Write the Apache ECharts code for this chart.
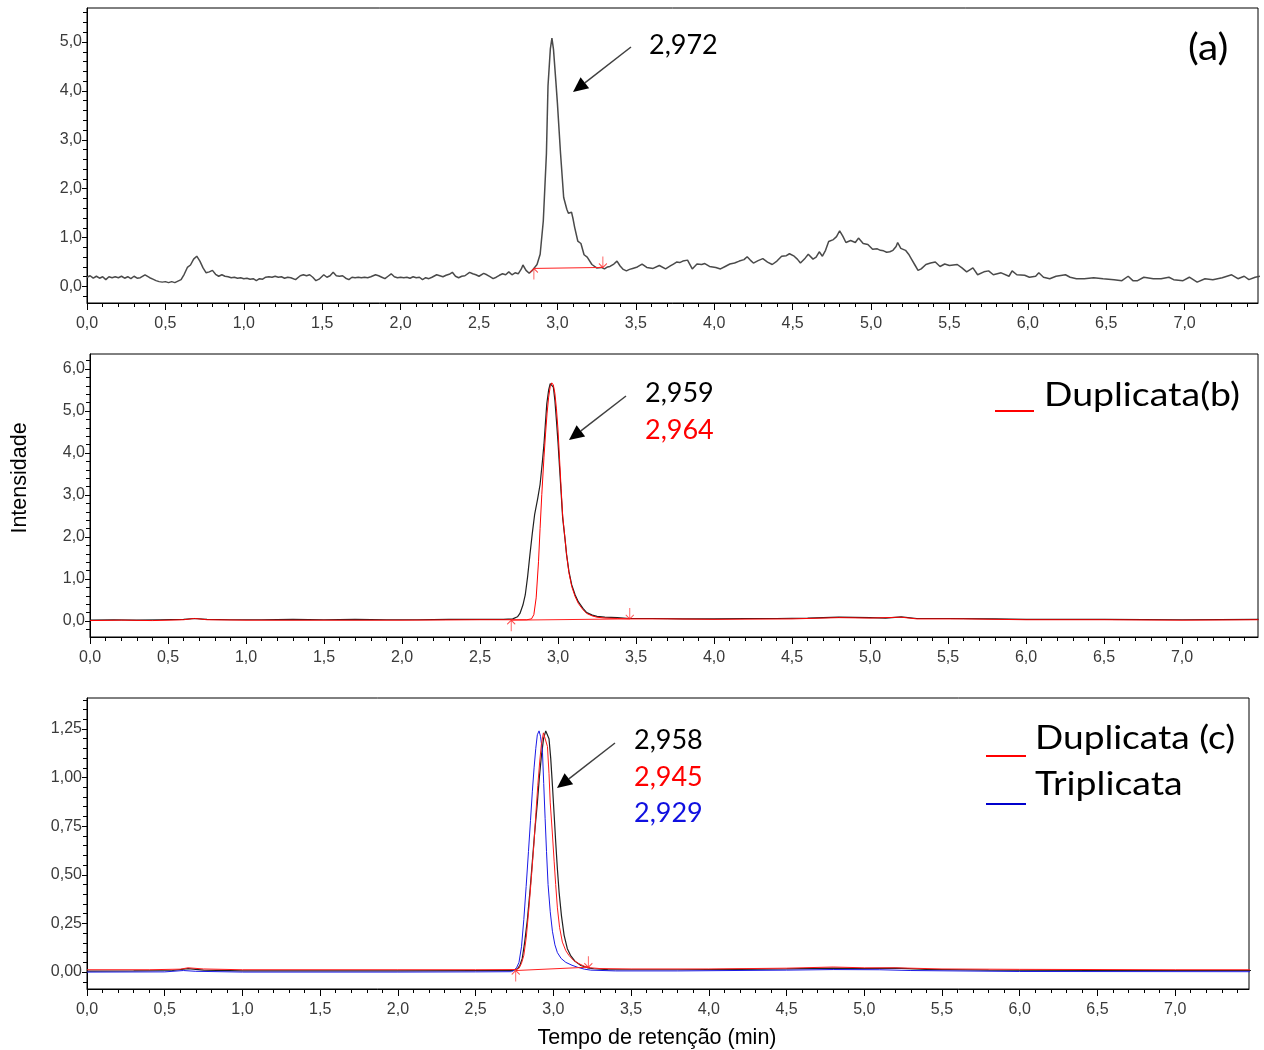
<!DOCTYPE html>
<html><head><meta charset="utf-8">
<script src="https://cdn.jsdelivr.net/npm/echarts@6/dist/echarts.min.js"></script>
<style>html,body{margin:0;padding:0;background:#fff}#c{width:1264px;height:1050px}</style>
</head><body><div id="c"></div>
<script>
// ---------- Panel (a) ----------
const aTime = [0.00,0.02,0.04,0.06,0.08,0.10,0.12,0.14,0.16,0.18,0.20,0.22,0.24,0.26,0.28,0.30,0.32,0.34,0.37,0.40,0.42,0.44,0.46,0.48,0.50,0.52,0.54,0.56,0.58,0.60,0.62,0.64,0.66,0.68,0.70,0.72,0.74,0.76,0.78,0.80,0.82,0.84,0.86,0.88,0.90,0.92,0.94,0.96,0.98,1.00,1.02,1.04,1.06,1.08,1.10,1.12,1.14,1.16,1.18,1.20,1.22,1.24,1.26,1.28,1.30,1.33,1.36,1.38,1.40,1.42,1.44,1.46,1.48,1.51,1.53,1.55,1.57,1.59,1.61,1.63,1.65,1.67,1.69,1.71,1.73,1.75,1.77,1.79,1.81,1.84,1.86,1.88,1.90,1.92,1.94,1.96,1.98,2.00,2.02,2.04,2.06,2.08,2.10,2.12,2.14,2.16,2.18,2.20,2.23,2.25,2.27,2.29,2.31,2.33,2.35,2.37,2.39,2.41,2.44,2.46,2.48,2.50,2.53,2.55,2.57,2.59,2.61,2.63,2.65,2.67,2.69,2.71,2.73,2.75,2.77,2.78,2.80,2.82,2.84,2.85,2.87,2.89,2.91,2.93,2.94,2.955,2.965,2.975,2.99,3.00,3.02,3.04,3.06,3.07,3.09,3.10,3.11,3.13,3.14,3.15,3.17,3.19,3.20,3.22,3.25,3.28,3.30,3.32,3.335,3.36,3.38,3.40,3.42,3.44,3.46,3.48,3.51,3.54,3.57,3.61,3.65,3.69,3.72,3.74,3.76,3.78,3.80,3.83,3.86,3.89,3.92,3.94,3.97,4.01,4.04,4.07,4.10,4.13,4.16,4.19,4.21,4.23,4.25,4.28,4.31,4.34,4.37,4.40,4.43,4.46,4.48,4.51,4.53,4.55,4.58,4.60,4.63,4.65,4.67,4.69,4.71,4.73,4.76,4.78,4.80,4.82,4.84,4.85,4.87,4.90,4.92,4.95,4.98,5.01,5.04,5.06,5.08,5.10,5.12,5.14,5.16,5.17,5.19,5.22,5.24,5.26,5.28,5.30,5.32,5.35,5.38,5.41,5.44,5.47,5.50,5.55,5.58,5.61,5.65,5.68,5.72,5.75,5.78,5.83,5.88,5.90,5.93,5.98,6.01,6.05,6.07,6.10,6.14,6.18,6.24,6.27,6.31,6.36,6.42,6.48,6.55,6.60,6.64,6.67,6.70,6.74,6.80,6.85,6.90,6.93,6.99,7.03,7.08,7.13,7.18,7.24,7.30,7.34,7.38,7.41,7.45,7.48];
const aSignal = [0.19,0.22,0.17,0.21,0.17,0.20,0.14,0.20,0.18,0.20,0.18,0.21,0.17,0.20,0.16,0.21,0.17,0.18,0.24,0.18,0.15,0.12,0.10,0.09,0.10,0.08,0.10,0.08,0.11,0.14,0.25,0.39,0.44,0.56,0.62,0.52,0.38,0.28,0.30,0.33,0.25,0.21,0.24,0.21,0.20,0.18,0.19,0.17,0.18,0.16,0.17,0.15,0.16,0.12,0.16,0.15,0.19,0.20,0.19,0.21,0.19,0.20,0.17,0.19,0.18,0.14,0.22,0.24,0.22,0.24,0.19,0.12,0.15,0.24,0.19,0.22,0.29,0.22,0.21,0.22,0.17,0.14,0.19,0.18,0.19,0.18,0.19,0.18,0.20,0.24,0.22,0.19,0.16,0.21,0.26,0.20,0.18,0.19,0.18,0.19,0.17,0.20,0.18,0.19,0.14,0.18,0.16,0.19,0.24,0.22,0.20,0.23,0.25,0.29,0.21,0.18,0.21,0.22,0.29,0.26,0.24,0.21,0.27,0.24,0.20,0.16,0.19,0.23,0.26,0.24,0.30,0.24,0.28,0.26,0.36,0.44,0.33,0.27,0.33,0.36,0.45,0.66,1.34,2.72,4.10,4.86,5.08,4.85,4.20,3.75,2.72,1.82,1.58,1.50,1.52,1.38,1.21,0.93,0.97,0.88,0.65,0.60,0.58,0.45,0.38,0.39,0.36,0.40,0.41,0.46,0.52,0.42,0.35,0.32,0.35,0.37,0.40,0.46,0.39,0.37,0.43,0.36,0.42,0.46,0.50,0.49,0.52,0.54,0.36,0.46,0.45,0.47,0.41,0.39,0.36,0.41,0.46,0.48,0.52,0.55,0.61,0.54,0.48,0.53,0.57,0.50,0.45,0.52,0.62,0.63,0.67,0.62,0.56,0.48,0.58,0.66,0.56,0.60,0.71,0.62,0.74,0.92,0.96,1.02,1.14,1.03,0.90,0.86,0.94,0.90,0.99,0.88,0.86,0.76,0.77,0.74,0.73,0.70,0.71,0.74,0.82,0.90,0.78,0.74,0.66,0.55,0.44,0.33,0.36,0.45,0.48,0.50,0.41,0.46,0.43,0.45,0.38,0.30,0.38,0.24,0.30,0.32,0.24,0.28,0.21,0.32,0.24,0.23,0.19,0.21,0.28,0.19,0.16,0.21,0.24,0.19,0.16,0.16,0.18,0.16,0.14,0.12,0.21,0.12,0.12,0.19,0.16,0.16,0.19,0.14,0.12,0.19,0.09,0.16,0.14,0.18,0.24,0.16,0.21,0.14,0.19,0.21];
const aBaseTime = [2.85, 3.29];
const aBaseValue = [0.37, 0.39];

// ---------- Panel (b) ----------
const bTimeBlack = [0.00,0.15,0.30,0.45,0.60,0.67,0.75,0.90,1.10,1.30,1.50,1.70,1.90,2.10,2.30,2.50,2.65,2.71,2.74,2.756,2.775,2.79,2.805,2.82,2.835,2.85,2.87,2.885,2.90,2.91,2.92,2.928,2.94,2.95,2.96,2.97,2.98,2.99,3.00,3.01,3.02,3.03,3.045,3.055,3.07,3.088,3.11,3.13,3.16,3.184,3.22,3.25,3.30,3.38,3.46,3.6,3.8,4.0,4.2,4.4,4.6,4.8,5.0,5.1,5.2,5.3,5.5,5.8,6.0,6.5,7.0,7.49];
const bBlack = [0.02,0.03,0.02,0.03,0.04,0.06,0.04,0.03,0.03,0.04,0.03,0.04,0.03,0.03,0.04,0.04,0.04,0.05,0.10,0.18,0.38,0.62,1.05,1.58,2.08,2.53,2.92,3.25,3.80,4.21,4.75,5.17,5.50,5.65,5.66,5.57,5.25,4.77,4.25,3.65,3.05,2.45,1.95,1.58,1.18,0.86,0.62,0.46,0.30,0.20,0.14,0.11,0.09,0.08,0.06,0.06,0.05,0.05,0.06,0.06,0.07,0.09,0.08,0.07,0.10,0.06,0.06,0.05,0.04,0.04,0.03,0.04];
const bTimeRed = [0.00,0.2,0.4,0.6,0.67,0.75,1.0,1.5,2.0,2.5,2.7,2.80,2.83,2.845,2.86,2.875,2.885,2.896,2.91,2.92,2.93,2.94,2.95,2.96,2.97,2.98,2.99,3.00,3.01,3.02,3.03,3.045,3.055,3.07,3.088,3.11,3.13,3.16,3.184,3.22,3.25,3.30,3.38,3.46,3.7,4.0,4.5,4.8,5.0,5.2,5.3,5.6,6.0,6.5,7.0,7.49];
const bRed = [0.01,0.02,0.01,0.03,0.06,0.03,0.02,0.02,0.02,0.03,0.03,0.03,0.05,0.15,0.55,1.41,2.2,3.01,3.9,4.45,4.95,5.33,5.58,5.67,5.62,5.42,5.05,4.55,3.85,3.15,2.50,1.95,1.58,1.15,0.82,0.58,0.42,0.27,0.18,0.12,0.09,0.07,0.06,0.05,0.05,0.04,0.05,0.08,0.07,0.09,0.05,0.05,0.03,0.03,0.02,0.03];
const bBaseTime = [2.70, 3.46];
const bBaseValue = [0.02, 0.05];

// ---------- Panel (c) ----------
const cTimeBlack = [0.0,0.3,0.55,0.65,0.75,1.0,1.5,2.0,2.5,2.74,2.769,2.785,2.80,2.815,2.833,2.85,2.865,2.88,2.897,2.91,2.923,2.937,2.951,2.962,2.972,2.983,2.994,3.005,3.015,3.026,3.037,3.052,3.069,3.09,3.11,3.14,3.177,3.22,3.26,3.35,3.5,3.8,4.2,4.5,4.8,5.0,5.2,5.4,5.8,6.5,7.49];
const cBlack = [0.005,0.006,0.008,0.018,0.01,0.006,0.006,0.006,0.007,0.008,0.017,0.035,0.07,0.15,0.27,0.42,0.57,0.72,0.87,1.00,1.11,1.20,1.24,1.235,1.20,1.10,0.96,0.81,0.67,0.53,0.41,0.29,0.19,0.12,0.086,0.055,0.034,0.022,0.017,0.013,0.012,0.012,0.014,0.016,0.02,0.018,0.02,0.014,0.01,0.008,0.008];
const cTimeRed = [0.0,0.4,0.6,0.65,0.75,1.0,2.0,2.5,2.76,2.78,2.795,2.81,2.826,2.843,2.86,2.876,2.888,2.90,2.912,2.923,2.936,2.948,2.962,2.972,2.98,2.993,3.005,3.015,3.026,3.04,3.058,3.08,3.10,3.13,3.165,3.20,3.24,3.3,3.5,4.0,4.5,4.8,5.0,5.2,5.5,6.0,7.0,7.49];
const cRed = [0.012,0.012,0.015,0.022,0.016,0.012,0.012,0.012,0.013,0.02,0.045,0.086,0.18,0.33,0.50,0.67,0.82,0.96,1.08,1.17,1.23,1.22,1.16,1.02,0.87,0.72,0.57,0.45,0.33,0.23,0.154,0.11,0.086,0.06,0.043,0.03,0.022,0.018,0.016,0.016,0.02,0.026,0.022,0.022,0.016,0.014,0.012,0.012];
const cTimeBlue = [0.0,0.5,0.62,0.7,1.0,2.0,2.5,2.73,2.748,2.765,2.779,2.795,2.81,2.825,2.84,2.853,2.865,2.876,2.887,2.897,2.908,2.918,2.93,2.938,2.947,2.956,2.966,2.98,2.994,3.01,3.026,3.05,3.08,3.12,3.155,3.2,3.24,3.4,3.8,4.5,4.8,5.1,5.3,6.0,7.49];
const cBlue = [0.0,0.001,0.008,0.004,0.0,0.0,0.001,0.002,0.009,0.025,0.05,0.13,0.27,0.44,0.62,0.78,0.93,1.05,1.15,1.22,1.24,1.21,1.13,0.97,0.79,0.62,0.45,0.31,0.21,0.14,0.10,0.07,0.05,0.035,0.025,0.015,0.01,0.006,0.006,0.01,0.013,0.012,0.008,0.003,0.002];
const cBaseTime = [2.758, 3.225];
const cBaseValue = [0.008, 0.025];

// ---------- Tick labels / annotation texts ----------
const xTickLabels = [0,0.5,1.0,1.5,2.0,2.5,3.0,3.5,4.0,4.5,5.0,5.5,6.0,6.5,7.0];
const aYTickLabels = [0,1,2,3,4,5];
const bYTickLabels = [0,1,2,3,4,5,6];
const cYTickLabels = [0,0.25,0.5,0.75,1.0,1.25];
const peakLabelsA = ['2,972'];
const peakLabelsB = ['2,959','2,964'];
const peakLabelsC = ['2,958','2,945','2,929'];

function zip(t, v){ return t.map((x,i)=>[x, v[i]]); }
function minorList(lo, hi, step, majors){
  const out=[]; const n=Math.round((hi-lo)/step);
  for(let i=0;i<=n;i++){ const v=+(lo+i*step).toFixed(4); if(!majors.some(m=>Math.abs(m-v)<1e-6)) out.push(v); }
  return out;
}
const comma = d => v => v.toFixed(d).replace('.', ',');
const LBL = {color:'#3a3a3a', fontSize:16, fontFamily:'Liberation Sans, Arial, sans-serif'};

const grids = [
  {left:87, top:8, width:1171, height:295},
  {left:90, top:354, width:1168, height:283},
  {left:87, top:698, width:1162, height:291}
];
const xRanges = [[0,7.468],[0,7.487],[0,7.475]];
const yRanges = [[-0.337,5.695],[-0.381,6.357],[-0.087,1.409]];
const yMajors = [aYTickLabels, bYTickLabels, cYTickLabels];
const yMinors = [minorList(-0.2,5.6,0.2,aYTickLabels), minorList(-0.2,6.2,0.2,bYTickLabels), minorList(-0.05,1.40,0.05,cYTickLabels)];
const yDec = [1,1,2];
const xMinor = minorList(0,7.4,0.1,xTickLabels);

const xAxis=[], yAxis=[];
grids.forEach((g,i)=>{
  xAxis.push({type:'value', gridIndex:i, position:'bottom', min:xRanges[i][0], max:xRanges[i][1],
    axisLine:{show:true,onZero:false,lineStyle:{color:'#000',width:1}},
    axisTick:{show:true,customValues:xTickLabels,length:7,lineStyle:{color:'#000'}},
    axisLabel:{...LBL, customValues:xTickLabels, formatter:comma(1), margin:13},
    splitLine:{show:false}});
  xAxis.push({type:'value', gridIndex:i, position:'bottom', min:xRanges[i][0], max:xRanges[i][1],
    axisLine:{show:false,onZero:false}, axisTick:{show:true,customValues:xMinor,length:4,lineStyle:{color:'#000'}},
    axisLabel:{show:false}, splitLine:{show:false}});
  yAxis.push({type:'value', gridIndex:i, position:'left', min:yRanges[i][0], max:yRanges[i][1],
    axisLine:{show:true,onZero:false,lineStyle:{color:'#000',width:1}},
    axisTick:{show:true,customValues:yMajors[i],length:5,lineStyle:{color:'#000'}},
    axisLabel:{...LBL, customValues:yMajors[i], formatter:comma(yDec[i]), margin:5},
    splitLine:{show:false}});
  yAxis.push({type:'value', gridIndex:i, position:'left', min:yRanges[i][0], max:yRanges[i][1],
    axisLine:{show:false,onZero:false}, axisTick:{show:true,customValues:yMinors[i],length:4,lineStyle:{color:'#000'}},
    axisLabel:{show:false}, splitLine:{show:false}});
});

function line(gi, t, v, color, width, z){
  return {type:'line', xAxisIndex:gi*2, yAxisIndex:gi*2, data:zip(t,v), showSymbol:false, symbol:'none',
    lineStyle:{color, width}, z, animation:false, silent:true};
}
const upArrow = 'path://M4,0 L4,11 M0,4 L4,0 L8,4';
const downArrow = 'path://M4,11 L4,0 M0,7 L4,11 L8,7';
function integ(gi, t, v){
  const d = zip(t,v);
  return [
    {type:'line', xAxisIndex:gi*2, yAxisIndex:gi*2, data:d, showSymbol:false, symbol:'none', lineStyle:{color:'#ff2020',width:1}, z:5, animation:false, silent:true},
    {type:'scatter', xAxisIndex:gi*2, yAxisIndex:gi*2, data:[d[0]], symbol:upArrow, symbolSize:[8,11], symbolOffset:[0,5.5],
      itemStyle:{color:'rgba(0,0,0,0)', borderColor:'#ff2020', borderWidth:1}, z:6, animation:false, silent:true},
    {type:'scatter', xAxisIndex:gi*2, yAxisIndex:gi*2, data:[d[1]], symbol:downArrow, symbolSize:[8,11], symbolOffset:[0,-5.5],
      itemStyle:{color:'rgba(0,0,0,0)', borderColor:'#ff2020', borderWidth:1}, z:6, animation:false, silent:true}
  ];
}

const series = [
  line(0, aTime, aSignal, '#4a4a4a', 1.5, 3),
  ...integ(0, aBaseTime, aBaseValue),
  line(1, bTimeBlack, bBlack, '#202020', 1.2, 3),
  line(1, bTimeRed, bRed, '#ff0000', 1, 4),
  ...integ(1, bBaseTime, bBaseValue),
  line(2, cTimeBlack, cBlack, '#202020', 1.2, 3),
  line(2, cTimeBlue, cBlue, '#1a1ae6', 1, 4),
  line(2, cTimeRed, cRed, '#ff1a1a', 1, 4),
  ...integ(2, cBaseTime, cBaseValue)
];

const FONT = 'Lato, "Open Sans", sans-serif';
function arrow(x1,y1,x2,y2){
  const dx=x2-x1, dy=y2-y1, L=Math.hypot(dx,dy), ux=dx/L, uy=dy/L, hl=15, hw=7;
  const bx=x2-ux*hl, by=y2-uy*hl, nx=-uy, ny=ux;
  return [
    {type:'line', shape:{x1,y1,x2:bx,y2:by}, style:{stroke:'#404040', lineWidth:1.5}},
    {type:'polygon', shape:{points:[[x2,y2],[bx+nx*hw,by+ny*hw],[bx-nx*hw,by-ny*hw]]}, style:{fill:'#000'}}
  ];
}
function txt(x,y,text,color,size,sx){
  return {type:'text', x, y, scaleX:sx||1, style:{text, fill:color, font:size+'px '+FONT, textAlign:'left', textVerticalAlign:'middle'}};
}
const graphic = [
  ...arrow(631,47,573,92),
  txt(649,45,peakLabelsA[0],'#000',27),
  txt(1188,48,'(a)','#000',36,1.13),
  ...arrow(626,396,569,440),
  txt(645,393,peakLabelsB[0],'#000',27),
  txt(645,430,peakLabelsB[1],'#ff0000',27),
  {type:'line', shape:{x1:995,y1:411,x2:1034,y2:411}, style:{stroke:'#ff0000', lineWidth:2}},
  txt(1044,396,'Duplicata(b)','#000',32,1.17),
  ...arrow(615,743,557,788),
  txt(634,740,peakLabelsC[0],'#000',27),
  txt(634,777,peakLabelsC[1],'#ff0000',27),
  txt(634,813,peakLabelsC[2],'#1010e0',27),
  {type:'line', shape:{x1:986,y1:756,x2:1026,y2:756}, style:{stroke:'#ff0000', lineWidth:2}},
  {type:'line', shape:{x1:986,y1:804,x2:1026,y2:804}, style:{stroke:'#0000cc', lineWidth:2}},
  txt(1035,739,'Duplicata (c)','#000',32,1.16),
  txt(1035,785,'Triplicata','#000',32,1.17),
  {type:'text', x:20, y:478, rotation:Math.PI/2, style:{text:'Intensidade', fill:'#000', font:'21.5px Liberation Sans, Arial, sans-serif', textAlign:'center', textVerticalAlign:'middle'}},
  {type:'text', x:657, y:1038, style:{text:'Tempo de retenção (min)', fill:'#000', font:'21.5px Liberation Sans, Arial, sans-serif', textAlign:'center', textVerticalAlign:'middle'}}
];

const chart = echarts.init(document.getElementById('c'), null, {renderer:'canvas', width:1264, height:1050});
chart.setOption({
  animation:false,
  backgroundColor:'#fff',
  grid: grids.map(g=>({...g, show:true, borderColor:'#000', borderWidth:1, backgroundColor:'rgba(0,0,0,0)'})),
  xAxis, yAxis, series, graphic
});
</script></body></html>
